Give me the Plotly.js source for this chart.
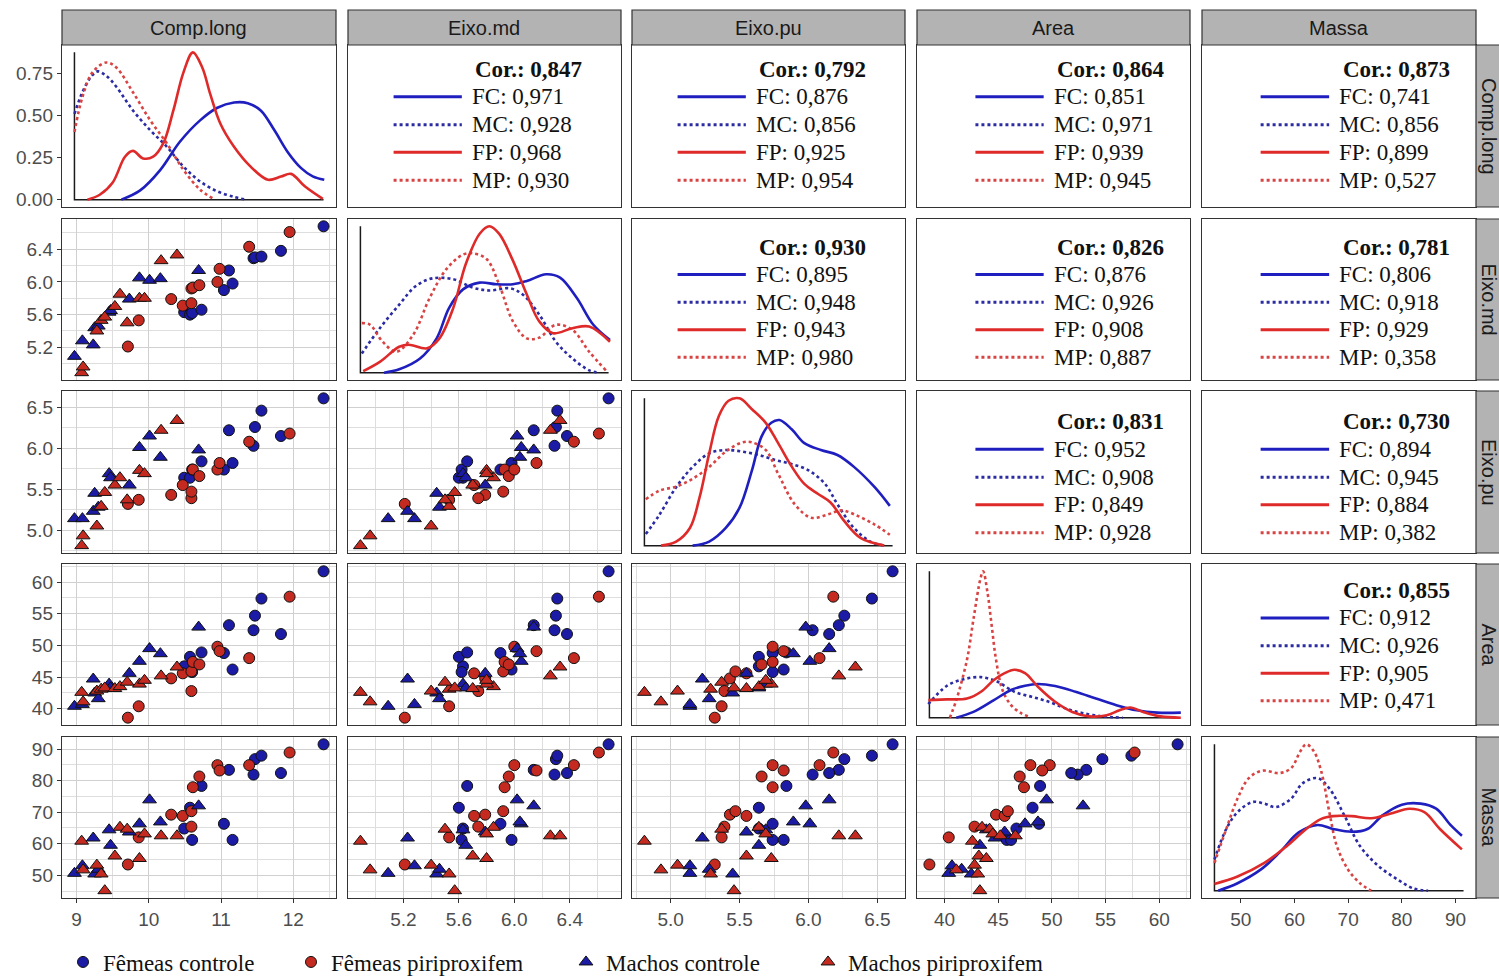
<!DOCTYPE html>
<html><head><meta charset="utf-8">
<script src="https://cdn.plot.ly/plotly-3.0.1.min.js"></script>
<style>html,body{margin:0;padding:0;background:#fff}#chart{width:1499px;height:976px}</style>
</head><body><div id="chart"></div>
<script>
// ---------------- data ----------------
const VAR_NAMES = ['Comp.long','Eixo.md','Eixo.pu','Area','Massa'];
const GROUP_NAMES = ['Fêmeas controle','Fêmeas piriproxifem','Machos controle','Machos piriproxifem'];

const FC_CL    = [10.49,10.57,10.60,10.73,11.04,11.11,11.16,11.45,11.47,11.56,11.83,12.42];
const FC_EMD   = [5.63,5.60,5.62,5.66,5.90,6.14,5.98,6.29,6.30,6.31,6.38,6.68];
const FC_EPU   = [5.64,5.64,5.74,5.84,5.74,6.22,5.82,6.03,6.26,6.46,6.15,6.61];
const FC_AREA  = [46.7,48.2,45.8,48.9,48.8,53.2,46.2,52.4,54.7,57.4,51.8,61.7];
const FC_MASSA = [64.8,71.4,61.2,78.3,66.3,83.4,61.2,81.9,86.8,87.9,82.4,91.5];

const FP_CL    = [9.71,9.86,10.31,10.47,10.59,10.59,10.61,10.70,10.95,10.98,11.39,11.95];
const FP_EMD   = [5.21,5.53,5.79,5.71,5.74,5.92,5.93,5.96,6.00,6.16,6.43,6.61];
const FP_EPU   = [5.32,5.37,5.43,5.55,5.39,5.47,5.74,5.66,5.74,5.82,6.08,6.18];
const FP_AREA  = [38.6,40.4,44.8,45.6,42.8,45.9,47.4,47.0,49.8,49.1,48.0,57.7];
const FP_MASSA = [53.4,62.0,69.2,68.8,65.4,70.3,77.9,81.3,84.9,83.2,84.9,88.9];

const MC_CL    = [8.97,9.08,9.23,9.25,9.30,9.45,9.47,9.73,9.87,10.01,10.16,10.69];
const MC_EMD   = [5.09,5.28,5.23,5.44,5.46,5.63,5.65,5.79,6.05,6.02,6.04,6.14];
const MC_EPU   = [5.14,5.14,5.23,5.45,5.28,5.69,5.64,5.55,6.01,6.15,5.89,5.98];
const MC_AREA  = [40.4,40.7,44.7,42.5,41.6,43.9,43.3,45.6,47.5,49.5,48.7,52.9];
const MC_MASSA = [50.6,53.0,61.8,50.4,51.9,64.4,59.5,63.7,66.3,73.9,66.9,72.0];

const MP_CL    = [9.07,9.09,9.28,9.34,9.39,9.53,9.60,9.70,9.87,9.94,10.17,10.39];
const MP_EMD   = [4.89,4.96,5.40,5.53,5.57,5.70,5.85,5.50,5.80,5.80,6.26,6.33];
const MP_EPU   = [4.81,4.93,5.05,5.29,5.46,5.55,5.64,5.37,5.73,5.69,6.22,6.34];
const MP_AREA  = [42.6,41.1,42.8,43.1,43.3,43.2,43.5,44.2,43.9,44.5,45.2,46.6];
const MP_MASSA = [60.8,51.7,53.2,50.4,45.1,56.1,65.2,64.6,55.3,63.1,62.5,62.5];

// density curves (diagonal panels)
const D_CL_FC_X = [9.62,9.88,10.16,10.43,10.71,10.95,11.18,11.37,11.55,11.74,11.92,12.11,12.27,12.43];
const D_CL_FC_Y = [0,0.055,0.177,0.344,0.471,0.546,0.577,0.573,0.530,0.412,0.285,0.187,0.138,0.118];
const D_CL_FP_X = [9.15,9.32,9.50,9.67,9.78,9.92,10.06,10.20,10.34,10.48,10.61,10.74,10.85,10.99,11.18,11.41,11.65,11.83,11.97,12.16,12.41];
const D_CL_FP_Y = [0,0.029,0.102,0.255,0.290,0.245,0.255,0.334,0.530,0.756,0.875,0.785,0.628,0.452,0.314,0.196,0.118,0.137,0.153,0.079,0.004];
const D_CL_MC_X = [8.97,9.08,9.20,9.29,9.41,9.55,9.78,10.02,10.25,10.48,10.71,10.95,11.18,11.34];
const D_CL_MC_Y = [0.510,0.638,0.730,0.762,0.736,0.671,0.530,0.412,0.314,0.196,0.108,0.049,0.016,0];
const D_CL_MP_X = [8.97,9.08,9.22,9.41,9.55,9.78,10.02,10.25,10.48,10.71,10.90];
const D_CL_MP_Y = [0.402,0.609,0.756,0.815,0.785,0.638,0.471,0.334,0.177,0.059,0.004];

const D_EMD_FC_X = [5.06,5.17,5.32,5.44,5.53,5.63,5.75,5.87,5.99,6.09,6.23,6.33,6.45,6.57,6.69];
const D_EMD_FC_Y = [0,0.023,0.096,0.233,0.440,0.565,0.611,0.600,0.600,0.622,0.668,0.645,0.508,0.325,0.222];
const D_EMD_FP_X = [4.91,5.03,5.17,5.24,5.37,5.46,5.56,5.65,5.75,5.82,5.89,5.99,6.09,6.18,6.28,6.42,6.54,6.69];
const D_EMD_FP_Y = [0.010,0.073,0.176,0.190,0.165,0.233,0.440,0.737,0.943,0.993,0.943,0.760,0.530,0.348,0.268,0.302,0.313,0.210];
const D_EMD_MC_X = [4.90,5.03,5.17,5.29,5.41,5.56,5.70,5.82,5.97,6.06,6.18,6.30,6.42,6.54,6.61];
const D_EMD_MC_Y = [0.130,0.302,0.462,0.588,0.640,0.634,0.577,0.558,0.572,0.531,0.394,0.210,0.096,0.016,0];
const D_EMD_MP_X = [4.90,4.96,5.05,5.15,5.27,5.39,5.51,5.63,5.70,5.80,5.89,5.99,6.09,6.18,6.30,6.42,6.54,6.66];
const D_EMD_MP_Y = [0.336,0.325,0.210,0.142,0.256,0.508,0.703,0.801,0.810,0.771,0.600,0.348,0.233,0.238,0.325,0.290,0.142,0.016];

const D_EPU_FC_X = [5.16,5.28,5.40,5.50,5.59,5.66,5.73,5.79,5.88,5.97,6.09,6.21,6.33,6.48,6.59];
const D_EPU_FC_Y = [0,0.027,0.119,0.256,0.508,0.737,0.828,0.847,0.783,0.691,0.645,0.611,0.531,0.394,0.268];
const D_EPU_FP_X = [4.93,5.04,5.14,5.21,5.28,5.35,5.42,5.50,5.59,5.69,5.78,5.88,5.97,6.07,6.16,6.26,6.38,6.55];
const D_EPU_FP_Y = [0,0.027,0.119,0.325,0.622,0.874,0.977,0.993,0.920,0.828,0.691,0.531,0.416,0.348,0.291,0.165,0.050,0];
const D_EPU_MC_X = [4.82,4.92,5.04,5.16,5.28,5.40,5.52,5.64,5.76,5.88,6.00,6.12,6.21,6.33,6.45,6.55];
const D_EPU_MC_Y = [0.078,0.210,0.394,0.531,0.622,0.645,0.634,0.611,0.577,0.549,0.508,0.416,0.279,0.119,0.027,0];
const D_EPU_MP_X = [4.82,4.92,5.04,5.16,5.28,5.40,5.52,5.59,5.69,5.78,5.90,6.02,6.14,6.24,6.36,6.48,6.59];
const D_EPU_MP_Y = [0.313,0.371,0.398,0.451,0.531,0.634,0.696,0.696,0.645,0.485,0.279,0.188,0.210,0.238,0.199,0.142,0.073];

const D_AREA_FC_X = [41.1,42.7,44.6,46.2,47.5,48.7,50.3,52.2,54.1,56.0,57.9,59.8,62.0];
const D_AREA_FC_Y = [0,0.039,0.119,0.188,0.217,0.229,0.215,0.176,0.130,0.085,0.050,0.034,0.034];
const D_AREA_FP_X = [38.5,40.2,42.1,43.4,44.6,45.6,46.5,47.5,48.7,50.3,51.9,53.5,55.1,56.3,57.3,58.5,60.1,62.0];
const D_AREA_FP_Y = [0.119,0.124,0.130,0.176,0.256,0.302,0.325,0.302,0.210,0.108,0.039,0.009,0.016,0.050,0.069,0.039,0.009,0];
const D_AREA_MC_X = [38.5,40.2,41.8,43.4,44.9,46.5,48.1,49.7,51.3,52.8,54.7,56.6];
const D_AREA_MC_Y = [0.092,0.215,0.261,0.275,0.245,0.176,0.142,0.108,0.062,0.032,0.009,0];
const D_AREA_MP_X = [40.5,41.1,42.1,42.7,43.35,43.6,44.0,44.4,44.8,45.4,46.2,47.1,47.8];
const D_AREA_MP_Y = [0,0.119,0.394,0.668,0.943,0.993,0.852,0.623,0.394,0.188,0.085,0.032,0.009];

const D_MASSA_FC_X = [45.8,49.4,53.7,57.2,60.8,64.3,67.2,70.7,73.6,76.4,80.0,83.5,86.4,89.2,91.2];
const D_MASSA_FC_Y = [0,0.050,0.141,0.255,0.391,0.441,0.414,0.395,0.414,0.505,0.577,0.584,0.550,0.436,0.368];
const D_MASSA_FP_X = [45.1,49.4,54.4,58.6,62.2,65.0,67.2,70.7,74.3,77.8,81.4,84.2,87.1,91.2];
const D_MASSA_FP_Y = [0.045,0.095,0.186,0.300,0.414,0.482,0.500,0.500,0.486,0.516,0.550,0.527,0.414,0.277];
const D_MASSA_MC_X = [45.1,47.3,49.4,52.2,54.4,56.5,59.4,61.5,64.3,66.5,69.3,72.2,75.7,79.3,82.1,84.9];
const D_MASSA_MC_Y = [0.209,0.414,0.527,0.595,0.584,0.561,0.618,0.720,0.755,0.686,0.505,0.300,0.164,0.073,0.016,0];
const D_MASSA_MP_X = [45.1,47.3,49.4,51.5,54.0,57.2,59.4,61.1,62.2,63.6,65.0,66.5,67.9,70.0,72.2,74.3];
const D_MASSA_MP_Y = [0.186,0.414,0.618,0.755,0.805,0.789,0.823,0.936,0.982,0.936,0.800,0.527,0.300,0.141,0.050,0];

// correlations (upper panels)
const PAIRS   = [[0,1],[0,2],[0,3],[0,4],[1,2],[1,3],[1,4],[2,3],[2,4],[3,4]];
const COR_ALL = [0.847,0.792,0.864,0.873,0.930,0.826,0.781,0.831,0.730,0.855];
const COR_FC  = [0.971,0.876,0.851,0.741,0.895,0.876,0.806,0.952,0.894,0.912];
const COR_MC  = [0.928,0.856,0.971,0.856,0.948,0.926,0.918,0.908,0.945,0.926];
const COR_FP  = [0.968,0.925,0.939,0.899,0.943,0.908,0.929,0.849,0.884,0.905];
const COR_MP  = [0.930,0.954,0.945,0.527,0.980,0.887,0.358,0.928,0.382,0.471];

// tick labels
const TICKS = [[9,10,11,12],[5.2,5.6,6.0,6.4],[5.0,5.5,6.0,6.5],[40,45,50,55,60],[50,60,70,80,90]];
const TICK_FMT = [0,1,1,0,0];
const MINOR_STEP = [0.5,0.2,0.25,2.5,5];
const TICKS_DENS = [0,0.25,0.5,0.75];

// ---------------- assembly ----------------
const W = 1499, H = 976;
const COL_PX = [[62,336],[348,621],[632,905],[917,1190],[1202,1476]];
const ROW_PX = [[45,207],[219,380],[391,553],[564,725],[737,898]];
const TEXT_ROW_SHIFT = [2.5,-1.5,-4,0,0]; // px, upward positive

const BLUE_PT = '#1b1ba6', RED_PT = '#c42a1f';
const groups = [
  {key:'FC', name:GROUP_NAMES[0], vals:[FC_CL,FC_EMD,FC_EPU,FC_AREA,FC_MASSA], symbol:'circle', color:BLUE_PT, size:11, lcolor:'#1f1fbf', dash:'solid'},
  {key:'FP', name:GROUP_NAMES[1], vals:[FP_CL,FP_EMD,FP_EPU,FP_AREA,FP_MASSA], symbol:'circle', color:RED_PT, size:11, lcolor:'#df2a2a', dash:'solid'},
  {key:'MC', name:GROUP_NAMES[2], vals:[MC_CL,MC_EMD,MC_EPU,MC_AREA,MC_MASSA], symbol:'triangle-up', color:BLUE_PT, size:12, lcolor:'#2b2ba3', dash:'dot'},
  {key:'MP', name:GROUP_NAMES[3], vals:[MP_CL,MP_EMD,MP_EPU,MP_AREA,MP_MASSA], symbol:'triangle-up', color:RED_PT, size:12, lcolor:'#d84444', dash:'dot'}
];
const DENS = [
  {FC:[D_CL_FC_X,D_CL_FC_Y],FP:[D_CL_FP_X,D_CL_FP_Y],MC:[D_CL_MC_X,D_CL_MC_Y],MP:[D_CL_MP_X,D_CL_MP_Y]},
  {FC:[D_EMD_FC_X,D_EMD_FC_Y],FP:[D_EMD_FP_X,D_EMD_FP_Y],MC:[D_EMD_MC_X,D_EMD_MC_Y],MP:[D_EMD_MP_X,D_EMD_MP_Y]},
  {FC:[D_EPU_FC_X,D_EPU_FC_Y],FP:[D_EPU_FP_X,D_EPU_FP_Y],MC:[D_EPU_MC_X,D_EPU_MC_Y],MP:[D_EPU_MP_X,D_EPU_MP_Y]},
  {FC:[D_AREA_FC_X,D_AREA_FC_Y],FP:[D_AREA_FP_X,D_AREA_FP_Y],MC:[D_AREA_MC_X,D_AREA_MC_Y],MP:[D_AREA_MP_X,D_AREA_MP_Y]},
  {FC:[D_MASSA_FC_X,D_MASSA_FC_Y],FP:[D_MASSA_FP_X,D_MASSA_FP_Y],MC:[D_MASSA_MC_X,D_MASSA_MC_Y],MP:[D_MASSA_MP_X,D_MASSA_MP_Y]}
];

function allVals(v){ return [].concat(...groups.map(g=>g.vals[v])); }
function expandRange(mn,mx){ const s=mx-mn; return [mn-0.05*s, mx+0.05*s]; }
const VAR_MIN = VAR_NAMES.map((_,v)=>Math.min(...allVals(v)));
const VAR_MAX = VAR_NAMES.map((_,v)=>Math.max(...allVals(v)));
const VAR_RANGE = VAR_NAMES.map((_,v)=>expandRange(VAR_MIN[v],VAR_MAX[v]));
const DENS_MAX = DENS.map(d=>Math.max(...['FC','FP','MC','MP'].map(k=>Math.max(...d[k][1]))));

const SANS = 'Liberation Sans, Arial, sans-serif';
const SERIF = 'Liberation Serif, Times New Roman, serif';
const tickFont = {family:SANS, size:19, color:'#4d4d4d'};
const GRID = '#d0d0d0', GRID_MINOR = '#dedede';

const layout = {
  width:W, height:H, margin:{l:0,r:0,t:0,b:0,autoexpand:false},
  paper_bgcolor:'#ffffff', plot_bgcolor:'#ffffff', hovermode:false,
  showlegend:true, shapes:[], annotations:[]
};
const traces = [];
const fmtTick = (v,d)=> v.toFixed(d);
const fmtCor = v => v.toFixed(3).replace('.', ',');

for (let r=0;r<5;r++){
  for (let c=0;c<5;c++){
    const k = r*5+c+1, id = (k===1?'':String(k));
    const xa = {domain:[COL_PX[c][0]/W, COL_PX[c][1]/W], anchor:'y'+id,
      showline:true, mirror:true, linecolor:'#333333', linewidth:1.2, zeroline:false,
      showgrid:false, ticks:'', showticklabels:false, fixedrange:true};
    const ya = {domain:[1-ROW_PX[r][1]/H, 1-ROW_PX[r][0]/H], anchor:'x'+id,
      showline:true, mirror:true, linecolor:'#333333', linewidth:1.2, zeroline:false,
      showgrid:false, ticks:'', showticklabels:false, fixedrange:true};
    const gridAxis = (ax, v) => {
      ax.range = VAR_RANGE[v];
      ax.tickmode='array'; ax.tickvals=TICKS[v]; ax.ticktext=TICKS[v].map(t=>fmtTick(t,TICK_FMT[v]));
      ax.showgrid=true; ax.gridcolor=GRID; ax.gridwidth=1;
      ax.minor={tickmode:'linear', tick0:0, dtick:MINOR_STEP[v], showgrid:true, gridcolor:GRID_MINOR, gridwidth:1, ticks:''};
    };
    const labelAxis = (ax) => { ax.showticklabels=true; ax.ticks='outside'; ax.ticklen=4; ax.tickwidth=1; ax.tickcolor='#333333'; ax.tickfont=tickFont; };
    const setTicksOnly = (ax, v) => { ax.tickmode='array'; ax.tickvals=TICKS[v]; ax.ticktext=TICKS[v].map(t=>fmtTick(t,TICK_FMT[v])); };

    if (r>c){
      gridAxis(xa,c); gridAxis(ya,r);
      if (r===4) labelAxis(xa);
      if (c===0) labelAxis(ya);
      groups.forEach((g,gi)=>{
        const t = {type:'scatter', mode:'markers', x:g.vals[c], y:g.vals[r], xaxis:'x'+id, yaxis:'y'+id,
          name:g.name, hoverinfo:'skip', showlegend:false,
          marker:{symbol:g.symbol, size:g.size, color:g.color, line:{color:'#111111', width:1}}};
        if (r===1 && c===0){ t.showlegend=true; t.legend = gi===0?'legend':'legend'+(gi+1); }
        traces.push(t);
      });
    } else if (r===c){
      xa.range = VAR_RANGE[c];
      const dm = DENS_MAX[c];
      ya.range = [-0.05*dm, 1.05*dm];
      if (r===4){ setTicksOnly(xa,c); labelAxis(xa); }
      if (c===0){ ya.tickmode='array'; ya.tickvals=TICKS_DENS; ya.ticktext=TICKS_DENS.map(t=>t.toFixed(2)); labelAxis(ya); }
      traces.push({type:'scatter', mode:'lines', x:[VAR_MIN[c],VAR_MIN[c],VAR_MAX[c]], y:[dm,0,0],
        xaxis:'x'+id, yaxis:'y'+id, hoverinfo:'skip', showlegend:false, line:{color:'#1a1a1a', width:1.5}});
      ['MC','MP','FC','FP'].forEach(key=>{
        const g = groups.find(gg=>gg.key===key);
        traces.push({type:'scatter', mode:'lines', x:DENS[c][key][0], y:DENS[c][key][1],
          xaxis:'x'+id, yaxis:'y'+id, hoverinfo:'skip', showlegend:false,
          line:{color:g.lcolor, width:2.6, dash:g.dash, shape:'spline', smoothing:1}});
      });
    } else {
      xa.range=[0,1]; ya.range=[0,1];
      traces.push({type:'scatter', mode:'markers', x:[], y:[], xaxis:'x'+id, yaxis:'y'+id, hoverinfo:'skip', showlegend:false});
      const p = PAIRS.findIndex(pp=>pp[0]===r && pp[1]===c);
      const tl = c<=2 ? 0.447 : 0.494;
      const sh = TEXT_ROW_SHIFT[r]/(ROW_PX[r][1]-ROW_PX[r][0]);
      const rowsY = [0.835, 0.665, 0.492, 0.322, 0.15].map(y=>y+sh);
      const xr = 'x'+id+' domain', yr = 'y'+id+' domain';
      layout.annotations.push({xref:xr, yref:yr, x:tl+0.012, y:rowsY[0], xanchor:'left', yanchor:'middle', showarrow:false,
        text:'<b>Cor.: '+fmtCor(COR_ALL[p])+'</b>', font:{family:SERIF, size:23, color:'#111111'}});
      const lines = [['FC',COR_FC[p],'FC'],['MC',COR_MC[p],'MC'],['FP',COR_FP[p],'FP'],['MP',COR_MP[p],'MP']];
      lines.forEach((ln,i)=>{
        const g = groups.find(gg=>gg.key===ln[2]);
        layout.annotations.push({xref:xr, yref:yr, x:tl, y:rowsY[i+1], xanchor:'left', yanchor:'middle', showarrow:false,
          text:ln[0]+': '+fmtCor(ln[1]), font:{family:SERIF, size:23, color:'#111111'}});
        layout.shapes.push({type:'line', xref:xr, yref:yr, x0:tl-0.28, x1:tl-0.03, y0:rowsY[i+1], y1:rowsY[i+1],
          line:{color:g.lcolor, width:3, dash:g.dash}});
      });
    }
    layout['xaxis'+id]=xa; layout['yaxis'+id]=ya;
  }
}

// strips
for (let c=0;c<5;c++){
  layout.shapes.push({type:'rect', xref:'paper', yref:'paper', x0:COL_PX[c][0]/W, x1:COL_PX[c][1]/W, y0:1-45/H, y1:1-10/H,
    fillcolor:'#b3b3b3', line:{color:'#333333', width:1.2}});
  layout.annotations.push({xref:'paper', yref:'paper', x:(COL_PX[c][0]+COL_PX[c][1])/2/W, y:1-27.5/H, xanchor:'center', yanchor:'middle',
    showarrow:false, text:VAR_NAMES[c], font:{family:SANS, size:20, color:'#1a1a1a'}});
}
for (let r=0;r<5;r++){
  layout.shapes.push({type:'rect', xref:'paper', yref:'paper', x0:1476/W, x1:1.01, y0:1-ROW_PX[r][1]/H, y1:1-ROW_PX[r][0]/H,
    fillcolor:'#b3b3b3', line:{color:'#333333', width:1.2}});
  layout.annotations.push({xref:'paper', yref:'paper', x:1489/W, y:1-(ROW_PX[r][0]+ROW_PX[r][1])/2/H, xanchor:'center', yanchor:'middle',
    showarrow:false, textangle:90, text:VAR_NAMES[r], font:{family:SANS, size:20, color:'#1a1a1a'}});
}

// legends (one per group, placed along the bottom)
const LEG_PX = [63,291,566,808];
LEG_PX.forEach((px,i)=>{
  layout[i===0?'legend':'legend'+(i+1)] = {x:px/W, y:1-962/H, xanchor:'left', yanchor:'middle', orientation:'h',
    font:{family:SERIF, size:23, color:'#111111'}, bgcolor:'rgba(0,0,0,0)', borderwidth:0, itemsizing:'trace'};
});

Plotly.newPlot('chart', traces, layout, {staticPlot:true, displayModeBar:false});
</script></body></html>
